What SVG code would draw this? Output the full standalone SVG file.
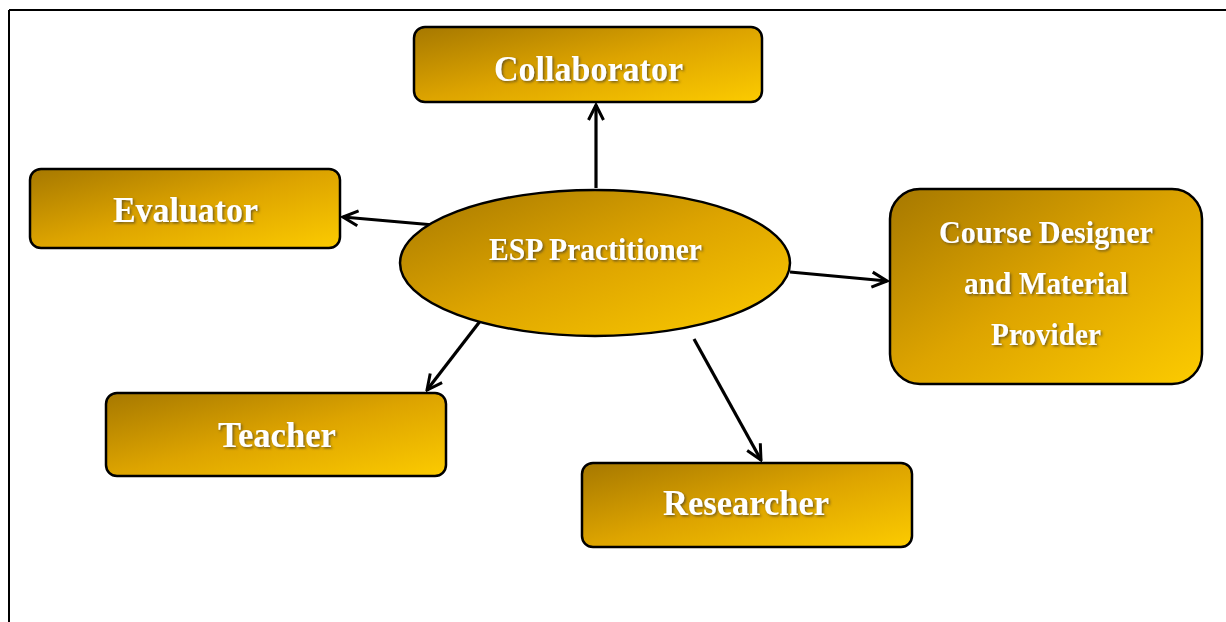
<svg xmlns="http://www.w3.org/2000/svg" width="1226" height="622" viewBox="0 0 1226 622">
<defs>
<linearGradient id="gold" x1="0" y1="0" x2="1" y2="1">
<stop offset="0" stop-color="#a67800"/>
<stop offset="0.5" stop-color="#dda400"/>
<stop offset="1" stop-color="#fccb00"/>
</linearGradient>
<filter id="sh" x="-10%" y="-30%" width="120%" height="160%">
<feDropShadow dx="1.5" dy="1.5" stdDeviation="1.2" flood-color="#5a4a20" flood-opacity="0.8"/>
</filter>
<marker id="arr" viewBox="0 0 20 20" refX="18" refY="10" markerWidth="20" markerHeight="20" markerUnits="userSpaceOnUse" orient="auto">
<path d="M3,2.5 L18,10 L3,17.5" fill="none" stroke="#000" stroke-width="3" stroke-linejoin="miter"/>
</marker>
</defs>
<style>
.box{fill:url(#gold);stroke:#000;stroke-width:2.5}
.t{font-family:"Liberation Serif","Times New Roman",serif;font-weight:bold;fill:#fff;text-anchor:middle;filter:url(#sh)}
.big{font-size:36px}
.mid{font-size:31px}
.con{stroke:#000;stroke-width:3.2;fill:none;marker-end:url(#arr)}
</style>
<g id="frame" fill="none" stroke="#000" stroke-width="2">
<line x1="9" y1="10" x2="1226" y2="10"/>
<line x1="9" y1="10" x2="9" y2="622"/>
</g>
<g id="connectors">
<line class="con" x1="596" y1="188" x2="596" y2="105"/>
<line class="con" x1="434" y1="225" x2="343" y2="217"/>
<line class="con" x1="790" y1="272" x2="887" y2="281"/>
<line class="con" x1="481" y1="320" x2="427" y2="390"/>
<line class="con" x1="694" y1="339" x2="761" y2="460"/>
</g>
<g id="collaborator">
<rect class="box" x="414" y="27" width="348" height="75" rx="11"/>
<text class="t big" x="588.5" y="81" textLength="189" lengthAdjust="spacingAndGlyphs">Collaborator</text>
</g>
<g id="evaluator">
<rect class="box" x="30" y="169" width="310" height="79" rx="11"/>
<text class="t big" x="185.5" y="222" textLength="145" lengthAdjust="spacingAndGlyphs">Evaluator</text>
</g>
<g id="esp">
<ellipse class="box" cx="595" cy="263" rx="195" ry="73"/>
<text class="t mid" x="595.5" y="260" textLength="213" lengthAdjust="spacingAndGlyphs">ESP Practitioner</text>
</g>
<g id="course">
<rect class="box" x="890" y="189" width="312" height="195" rx="30"/>
<text class="t mid" x="1046" y="243" textLength="214" lengthAdjust="spacingAndGlyphs">Course Designer</text>
<text class="t mid" x="1046" y="294" textLength="164" lengthAdjust="spacingAndGlyphs">and Material</text>
<text class="t mid" x="1046" y="345" textLength="110" lengthAdjust="spacingAndGlyphs">Provider</text>
</g>
<g id="teacher">
<rect class="box" x="106" y="393" width="340" height="83" rx="11"/>
<text class="t big" x="277" y="447" textLength="118" lengthAdjust="spacingAndGlyphs">Teacher</text>
</g>
<g id="researcher">
<rect class="box" x="582" y="463" width="330" height="84" rx="11"/>
<text class="t big" x="746" y="515" textLength="166" lengthAdjust="spacingAndGlyphs">Researcher</text>
</g>
</svg>
